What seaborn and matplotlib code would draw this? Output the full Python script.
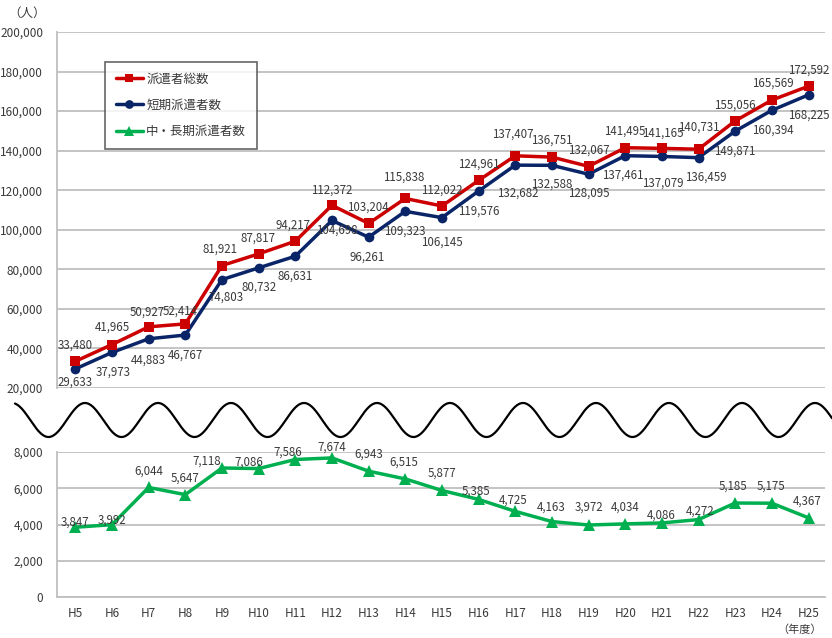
import numpy as np
import pandas as pd
import matplotlib.pyplot as plt
import seaborn as sns

# ---- data ----
years = ["H5", "H6", "H7", "H8", "H9", "H10", "H11", "H12", "H13", "H14", "H15",
         "H16", "H17", "H18", "H19", "H20", "H21", "H22", "H23", "H24", "H25"]
total = [33480, 41965, 50927, 52414, 81921, 87817, 94217, 112372, 103204, 115838, 112022,
         124961, 137407, 136751, 132067, 141495, 141165, 140731, 155056, 165569, 172592]
short_term = [29633, 37973, 44883, 46767, 74803, 80732, 86631, 104698, 96261, 109323, 106145,
              119576, 132682, 132588, 128095, 137461, 137079, 136459, 149871, 160394, 168225]
long_term = [3847, 3992, 6044, 5647, 7118, 7086, 7586, 7674, 6943, 6515, 5877,
             5385, 4725, 4163, 3972, 4034, 4086, 4272, 5185, 5175, 4367]
series_names = ["派遣者総数", "短期派遣者数", "中・長期派遣者数"]

df = pd.DataFrame({"year": years, "idx": range(len(years)),
                   "total": total, "short": short_term, "long": long_term})

# label offsets in pixels (dx, dy), dy positive = up
off_total = [(0, 16), (0, 17), (-1, 15), (-5, 13), (-2, 16), (-1, 16), (-2, 16),
             (0, 15), (-1, 16), (-2, 21), (0, 16), (0, 16), (-2, 22), (0, 17), (0, 16),
             (-1, 17), (1, 15), (0, 22), (0, 16), (1, 17), (0, 16)]
off_short = [(0, -13), (1, -20), (0, -21), (0, -20), (4, -18), (0, -19), (0, -20),
             (5, -10), (-1, -20), (0, -20), (0, -25), (0, -20), (3, -28), (0, -19), (0, -19),
             (-2, -19), (1, -27), (7, -19), (0, -20), (1, -20), (0, -20)]
off_long = [(0, 5), (0, 5), (0, 16), (0, 17), (-15, 7), (-10, 6), (-8, 7), (0, 11),
            (0, 17), (-2, 17), (0, 17), (-3, 8), (-2, 11), (-1, 14), (0, 18), (0, 17),
            (-1, 8), (2, 8), (-2, 17), (-1, 17), (-1, 17)]

sns.set_theme(style="white")
plt.rcParams["font.family"] = ["Noto Sans CJK JP", "DejaVu Sans"]

red = "#CC0000"
navy = "#0A2468"
green = "#00B050"
grid_c = "#BFBFBF"
txt_c = "#3A3A3A"

fig = plt.figure(figsize=(8.32, 6.38), dpi=100)
W, H = 832, 638
ax_top = fig.add_axes([57 / W, 1 - 388 / H, (825 - 57) / W, 356 / H])
ax_bot = fig.add_axes([57 / W, 1 - 597 / H, (825 - 57) / W, 145 / H])

sns.lineplot(data=df, x="idx", y="total", ax=ax_top, color=red, marker="s",
             markersize=7, markeredgewidth=0, linewidth=2.5, label=series_names[0], zorder=4)
sns.lineplot(data=df, x="idx", y="short", ax=ax_top, color=navy, marker="o",
             markersize=7, markeredgewidth=0, linewidth=2.5, label=series_names[1], zorder=3)
sns.lineplot(data=df, x="idx", y="long", ax=ax_bot, color=green, marker="^",
             markersize=8, markeredgewidth=0, linewidth=2.5, label=series_names[2], zorder=3)

lab_fs = 8.3
for i in df["idx"]:
    ax_top.annotate(f"{total[i]:,}", (i, total[i]), xytext=off_total[i],
                    textcoords="offset pixels", ha="center", va="center",
                    fontsize=lab_fs, color=txt_c, zorder=6)
    ax_top.annotate(f"{short_term[i]:,}", (i, short_term[i]), xytext=off_short[i],
                    textcoords="offset pixels", ha="center", va="center",
                    fontsize=lab_fs, color=txt_c, zorder=6)
    ax_bot.annotate(f"{long_term[i]:,}", (i, long_term[i]), xytext=off_long[i],
                    textcoords="offset pixels", ha="center", va="center",
                    fontsize=lab_fs, color=txt_c, zorder=6)

for ax in (ax_top, ax_bot):
    ax.set_xlim(-0.5, 20.45)
    ax.set_xlabel("")
    ax.set_ylabel("")
    ax.grid(axis="y", color=grid_c, linewidth=1.3)
    ax.set_axisbelow(True)
    for s in ("top", "right", "bottom"):
        ax.spines[s].set_visible(False)
    ax.spines["left"].set_color(grid_c)
    ax.spines["left"].set_linewidth(1.3)
    ax.tick_params(axis="y", length=0, labelsize=8.5, colors=txt_c, pad=10)
    ax.yaxis.set_major_formatter(plt.FuncFormatter(lambda v, p: f"{int(v):,}"))

ax_top.set_ylim(20000, 200000)
ax_top.set_yticks(range(20000, 200001, 20000))
ax_top.set_xticks([])

ax_bot.set_ylim(0, 8000)
ax_bot.set_yticks(range(0, 8001, 2000))
ax_bot.set_xticks(df["idx"])
ax_bot.set_xticklabels(years)
ax_bot.tick_params(axis="x", length=0, labelsize=8.5, colors=txt_c, pad=7)
ax_bot.spines["bottom"].set_visible(True)
ax_bot.spines["bottom"].set_color(grid_c)
ax_bot.spines["bottom"].set_linewidth(1.3)

# legend with all three series
h1, l1 = ax_top.get_legend_handles_labels()
h2, l2 = ax_bot.get_legend_handles_labels()
ax_bot.get_legend().remove()
leg = ax_top.legend(h1 + h2, l1 + l2, loc="upper left",
                    bbox_to_anchor=((105 - 57) / 768, (388 - 62) / 356),
                    borderaxespad=0, fontsize=9, frameon=True, fancybox=False,
                    edgecolor="#404040", handlelength=2.2, handletextpad=0.25,
                    labelspacing=1.05, borderpad=0.85, markerscale=0.9)
leg.get_frame().set_linewidth(1.2)
for t in leg.get_texts():
    t.set_color(txt_c)
leg.set_zorder(10)

# wavy break line (decoration)
ov = fig.add_axes([0, 0, 1, 1], facecolor="none")
ov.set_xlim(0, W)
ov.set_ylim(H, 0)
ov.axis("off")
wx = np.linspace(15, 832, 800)
ov.plot(wx, 420 - 17 * np.cos(2 * np.pi * (wx - 85) / 73), color="black", linewidth=1.6)

fig.text(27 / W, 1 - 13 / H, "（人）", fontsize=9, ha="center", va="center", color=txt_c)
fig.text(800 / W, 1 - 630 / H, "（年度）", fontsize=8, ha="center", va="center", color=txt_c)

plt.savefig("out.png", dpi=100)
plt.close()
